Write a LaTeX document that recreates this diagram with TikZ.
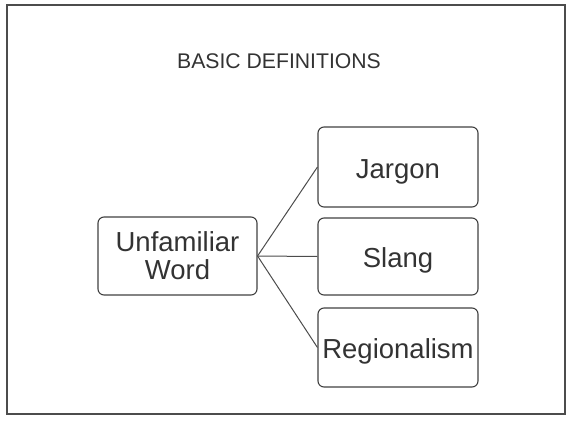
\documentclass[tikz,border=0pt]{standalone}
\usepackage{fontspec}
\setmainfont{Liberation Sans}
\begin{document}
\begin{tikzpicture}[x=1pt,y=1pt,
  box/.style={draw=black!75, line width=1.1pt, rounded corners=6pt, inner sep=0pt, minimum width=160pt, align=center, text=black!80, font=\fontsize{27.5}{28}\selectfont},
  one/.style={text height=22pt, text depth=0pt},
  conn/.style={draw=black!70, line width=1pt}]
\useasboundingbox (0,0) rectangle (566,-424);
\draw[black!70, line width=1.3pt] (7,-5) rectangle (565,-414);
\node[text=black!80, font=\fontsize{21.2}{23}\selectfont] (title) at (279,-61) {BASIC DEFINITIONS};
\node[box, minimum width=159pt, minimum height=78pt] (uw) at (177.5,-256) {Unfamiliar\\Word};
\node[box, one, minimum height=80pt] (jar) at (398,-167) {Jargon};
\node[box, one, minimum height=77pt] (sla) at (398,-256.5) {Slang};
\node[box, one, minimum height=79pt] (reg) at (398,-347.5) {Regionalism};
\draw[conn] (uw.east) -- (jar.west);
\draw[conn] (uw.east) -- (sla.west);
\draw[conn] (uw.east) -- (reg.west);
\end{tikzpicture}
\end{document}
